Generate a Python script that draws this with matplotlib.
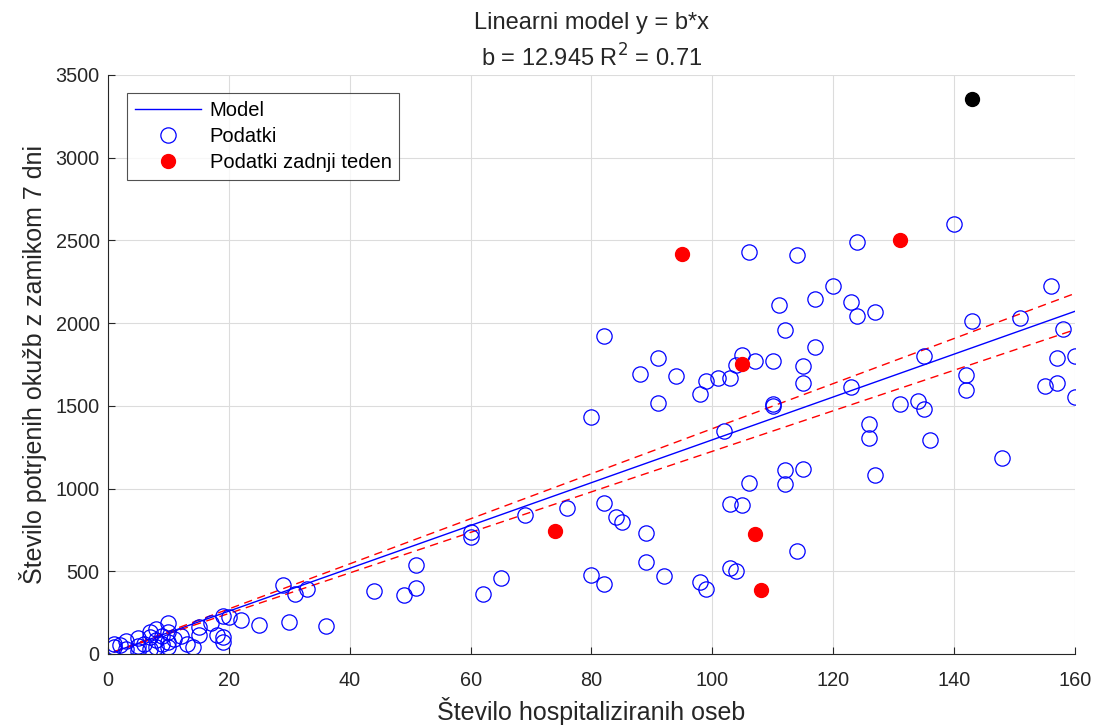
import matplotlib
matplotlib.use("Agg")
import matplotlib.pyplot as plt
import numpy as np

plt.rcParams['font.family'] = ['Liberation Sans', 'DejaVu Sans']

# model parameters
b = 12.945
b_lo, b_hi = 12.25, 13.62
r2 = 0.71

# all data points (open circles)
hosp = [1, 1, 2, 3, 3, 5, 5, 5, 6, 7, 7, 7, 8, 8, 8, 9, 9, 10, 10, 10, 10, 11, 12, 13,
        14, 15, 15, 17, 18, 19, 19, 19, 20, 22, 25, 29, 30, 31, 33, 36, 44, 49, 51, 51,
        60, 60, 62, 65, 69, 76, 80, 80, 82, 82, 82, 84, 85, 88, 89, 89, 91, 91, 92, 94,
        98, 98, 99, 99, 101, 102, 103, 103, 103, 104, 104, 105, 105, 106, 106, 107,
        110, 110, 110, 111, 112, 112, 112, 114, 114, 115, 115, 115, 117, 117, 120,
        123, 123, 124, 124, 126, 126, 127, 127, 131, 134, 135, 135, 136, 140, 142, 142,
        143, 148, 151, 155, 156, 157, 157, 158, 160, 160]
cases = [45, 60, 55, 30, 80, 20, 50, 95, 60, 100, 135, 30, 150, 85, 40, 110, 60, 190, 45,
         130, 75, 90, 110, 60, 40, 115, 165, 185, 115, 75, 105, 230, 225, 205, 175, 415,
         195, 365, 390, 170, 380, 355, 535, 400, 740, 710, 365, 460, 840, 883, 1430, 477,
         1922, 913, 425, 828, 798, 1693, 731, 556, 1789, 1517, 471, 1680, 1572, 435, 1650,
         393, 1668, 1348, 1668, 906, 520, 1747, 501, 1807, 900, 2430, 1033, 1771, 1771,
         1500, 1510, 2110, 1959, 1112, 1027, 2412, 622, 1741, 1638, 1118, 2146, 1856,
         2225, 2128, 1614, 2490, 2043, 1390, 1306, 2067, 1082, 1511, 1529, 1801, 1481,
         1294, 2600, 1687, 1596, 2013, 1185, 2031, 1620, 2225, 1789, 1638, 1965, 1801, 1553]

# last week
hosp_week = [74, 95, 105, 107, 108, 131]
cases_week = [744, 2418, 1753, 725, 387, 2503]

# latest point
hosp_last = [143]
cases_last = [3355]

fig = plt.figure(figsize=(10.99, 7.26), dpi=100)
ax = fig.add_axes([0.0983, 0.0992, 0.8797, 0.7975])

xs = np.array(sorted(set(hosp)), dtype=float)
ax.plot(xs, b * xs, color='blue', linewidth=1.0, label='Model')
ax.plot(xs, b_hi * xs, color='red', linestyle=(0, (6, 4)), linewidth=1.0)
ax.plot(xs, b_lo * xs, color='red', linestyle=(0, (6, 4)), linewidth=1.0)

ax.plot(hosp, cases, linestyle='none', marker='o', markersize=11,
        markerfacecolor='none', markeredgecolor='blue', markeredgewidth=0.9,
        label='Podatki')
ax.plot(hosp_week, cases_week, linestyle='none', marker='o', markersize=10,
        color='red', label='Podatki zadnji teden')
ax.plot(hosp_last, cases_last, linestyle='none', marker='o', markersize=10,
        color='black')

ax.set_xlim(0, 160)
ax.set_ylim(0, 3500)
ax.set_xticks(np.arange(0, 161, 20))
ax.set_yticks(np.arange(0, 3501, 500))
ax.grid(True, color='#dcdcdc', linewidth=0.8)
ax.set_axisbelow(True)
ax.spines['top'].set_visible(False)
ax.spines['right'].set_visible(False)
ax.spines['left'].set_color('#262626')
ax.spines['bottom'].set_color('#262626')
ax.tick_params(direction='in', length=5, labelsize=14.3, colors='#262626')
ax.tick_params(axis='x', pad=12)
ax.tick_params(axis='y', pad=6)

ax.set_xlabel('Število hospitaliziranih oseb', fontsize=18, color='#262626', labelpad=5)
ax.set_ylabel('Število potrjenih okužb z zamikom 7 dni', fontsize=18, color='#262626',
              labelpad=6)
ax.set_title('Linearni model y = b*x\nb = %.3f R$^2$ = %.2f' % (b, r2),
             fontsize=17, color='#262626', pad=6, linespacing=1.45)

leg = ax.legend(loc='upper left', bbox_to_anchor=(0.0196, 0.969), fontsize=14.5,
                frameon=True, fancybox=False, edgecolor='#262626',
                handlelength=3.3, handletextpad=0.4, borderpad=0.4,
                labelspacing=0.35, borderaxespad=0)
leg.get_frame().set_linewidth(0.8)

fig.savefig('out.png', dpi=100)
